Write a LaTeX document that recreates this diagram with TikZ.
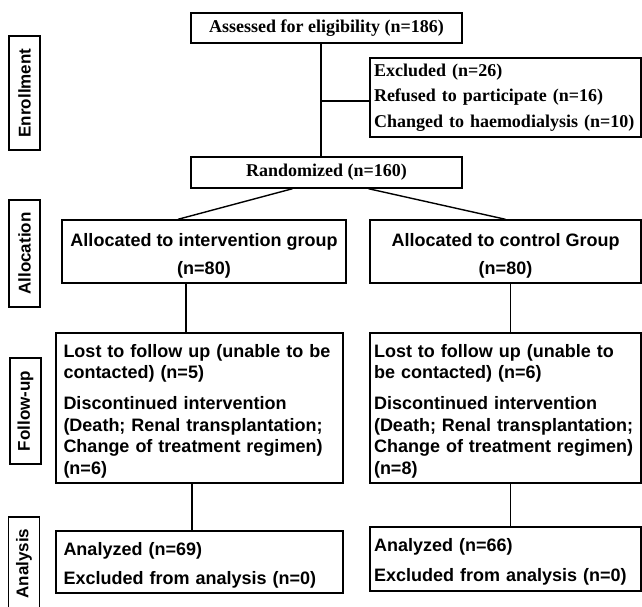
\documentclass[tikz,border=0pt]{standalone}
\usepackage{fontspec}
\setmainfont{Liberation Serif}
\setsansfont{Liberation Sans}
\usetikzlibrary{calc}

\begin{document}
\begin{tikzpicture}[x=1pt,y=-1pt,line width=1.4pt,
  serifbox/.style={draw,font=\fontsize{18}{25.5}\selectfont\bfseries,
    inner sep=0pt,minimum width=271pt,minimum height=30pt},
  sansbox/.style={draw,font=\sffamily\fontsize{18}{28}\selectfont\bfseries,
    align=center,inner sep=0pt,text height=54pt,text depth=9pt},
  sidebox/.style={draw,font=\sffamily\fontsize{18}{21.5}\selectfont\bfseries,
    align=left,inner xsep=7.5pt,inner ysep=0pt},
  stage/.style={draw,rotate=90,font=\sffamily\fontsize{17}{17}\selectfont\bfseries,
    inner sep=0pt,minimum height=31pt}]
  \useasboundingbox[fill=white] (0,0) rectangle (642,606);
  % Enrollment
  \node[serifbox] (assess) at (326.5,28) {Assessed for eligibility (n=186)};
  \node[serifbox,align=left,text width=263pt,inner xsep=4pt,text height=18pt,text depth=61pt] (excl) at (505.5,97.5)
    {Excluded (n=26)\\Refused to participate (n=16)\\Changed to haemodialysis (n=10)};
  \node[serifbox,minimum height=31pt] (rand) at (326.5,172.5) {Randomized (n=160)};
  % Allocation
  \node[sansbox,minimum width=284pt] (intv) at (204,251.5) {Allocated to intervention group\\(n=80)};
  \node[sansbox,minimum width=271pt] (ctrl) at (505.5,251.5) {Allocated to control Group\\(n=80)};
  % Follow-up
  \node[sidebox,text width=272pt,text height=24pt,text depth=126pt] (lostI) at (199.5,408)
    {Lost to follow up (unable to be\\contacted) (n=5)\\[9.5pt]Discontinued intervention\\(Death; Renal transplantation;\\Change of treatment regimen)\\(n=6)};
  \node[sidebox,text width=263pt,inner xsep=4pt,text height=24pt,text depth=126pt] (lostC) at (505.5,408)
    {Lost to follow up (unable to\\be contacted) (n=6)\\[9.5pt]Discontinued intervention\\(Death; Renal transplantation;\\Change of treatment regimen)\\(n=8)};
  % Analysis
  \node[sidebox,font=\sffamily\fontsize{18}{29}\selectfont\bfseries,text width=272pt,text height=24pt,text depth=38pt] (anaI) at (199.5,562)
    {Analyzed (n=69)\\Excluded from analysis (n=0)};
  \node[sidebox,font=\sffamily\fontsize{18}{30}\selectfont\bfseries,text width=263pt,inner xsep=4pt,text height=24pt,text depth=40pt] (anaC) at (505.5,559)
    {Analyzed (n=66)\\Excluded from analysis (n=0)};
  % Stage labels
  \node[stage,minimum width=114pt] (enrol) at (24.5,93) {Enrollment};
  \node[stage,minimum width=107pt] (alloc) at (24.5,253.5) {Allocation};
  \node[stage,minimum width=106pt] (follow) at (25.5,411) {Follow-up};
  \node[stage,minimum width=93pt] (analy) at (24,563.5) {Analysis};
  % Lines
  \coordinate (trunk) at ($(assess.south)+(-5.5,0)$);
  \coordinate (branch) at ([yshift=-3.5pt]excl.west);
  \draw (trunk) -- (trunk |- rand.north);
  \draw (branch) -- (trunk |- branch);
  \draw ($(rand.south)+(-34,0)$) -- ($(intv.north)+(-26,0)$);
  \draw ($(rand.south)+(42,0)$) -- (ctrl.north);
  \coordinate (vI) at ($(intv.south)+(-18,0)$);
  \coordinate (vIb) at ($(lostI.south)+(-7.5,0)$);
  \coordinate (vC) at ($(ctrl.south)+(5,0)$);
  \coordinate (vCb) at ($(lostC.south)+(5,0)$);
  \draw (vI) -- (vI |- lostI.north);
  \draw (vIb) -- (vIb |- anaI.north);
  \draw (vC) -- (vC |- lostC.north);
  \draw (vCb) -- (vCb |- anaC.north);
\end{tikzpicture}
\end{document}
